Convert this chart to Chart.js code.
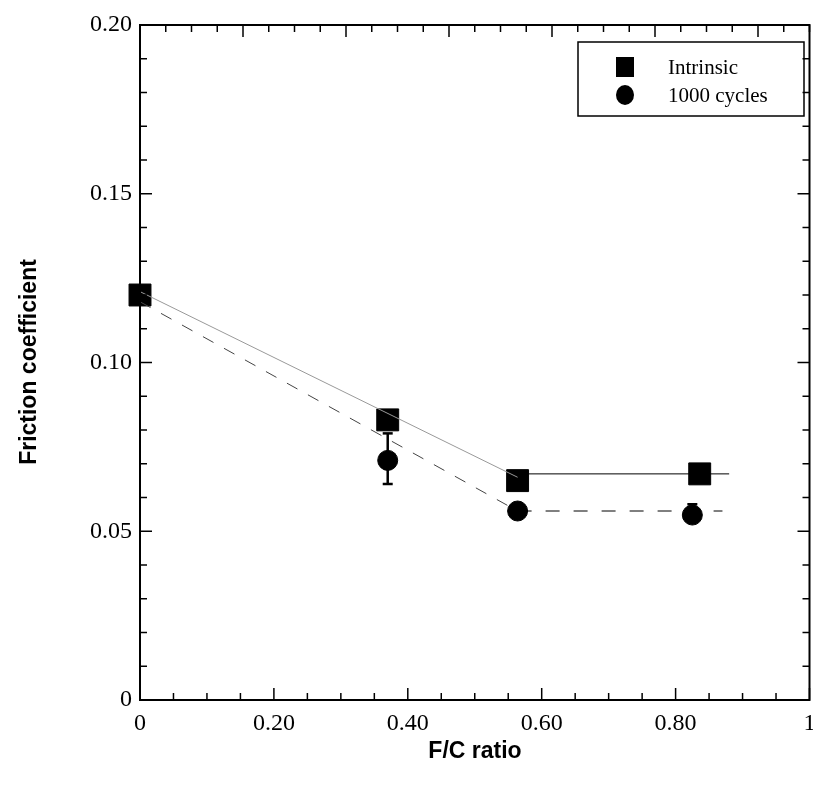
<!DOCTYPE html>
<html>
<head>
  <script src="https://cdn.jsdelivr.net/npm/chart.js@4"></script>
  <style>
    html, body { margin: 0; padding: 0; background: white; overflow: hidden; }
    .chart-container { position: relative; width: 826px; height: 791px; }
  </style>
</head>
<body>
  <div class="chart-container">
    <canvas id="frictionChart"></canvas>
  </div>

  <script>
    // data
    const fcRatio = [0, 0.37, 0.564, 0.836];
    const intrinsic = [0.120, 0.083, 0.065, 0.067];
    const cyclesRatio = [0.37, 0.564, 0.825];
    const cycles1000 = [0.071, 0.056, 0.0548];
    const cyclesErrLow = [0.064, null, null];
    const cyclesErrHigh = [0.079, null, 0.058];

    // fitted lines
    const intrinsicFitA = [[0, 0.121], [0.564, 0.066]];
    const intrinsicFitB = [[0.564, 0.067], [0.88, 0.067]];
    const cyclesFitA = [[0, 0.118], [0.564, 0.056]];
    const cyclesFitB = [[0.564, 0.056], [0.87, 0.056]];

    const xTickValues = [0, 0.2, 0.4, 0.6, 0.8, 1];
    const xTickLabels = ['0', '0.20', '0.40', '0.60', '0.80', '1'];
    const yTickValues = [0, 0.05, 0.10, 0.15, 0.20];
    const yTickLabels = ['0', '0.05', '0.10', '0.15', '0.20'];

    const toPts = arr => arr.map(p => ({x: p[0], y: p[1]}));

    const framePlugin = {
      id: 'frame',
      afterDraw(chart) {
        const ctx = chart.ctx;
        const xs = chart.scales.x, ys = chart.scales.y;
        const a = chart.chartArea;
        ctx.save();
        ctx.strokeStyle = '#000';
        ctx.lineWidth = 2;
        ctx.strokeRect(a.left, a.top, a.right - a.left, a.bottom - a.top);

        // bottom ticks, every 0.05, major at 0.2
        ctx.lineWidth = 1.5;
        for (let i = 0; i <= 20; i++) {
          const px = xs.getPixelForValue(i * 0.05);
          const len = i % 4 === 0 ? 12 : 7;
          ctx.beginPath(); ctx.moveTo(px, a.bottom); ctx.lineTo(px, a.bottom - len); ctx.stroke();
        }
        // top ticks (different spacing in source)
        for (let i = 1; i <= 26; i++) {
          const px = a.left + i * (a.right - a.left) / 26;
          const len = i % 4 === 0 ? 12 : 7;
          ctx.beginPath(); ctx.moveTo(px, a.top); ctx.lineTo(px, a.top + len); ctx.stroke();
        }
        // left / right ticks every 0.01, major at 0.05
        for (let i = 0; i <= 20; i++) {
          const py = ys.getPixelForValue(i * 0.01);
          const len = i % 5 === 0 ? 12 : 7;
          ctx.beginPath(); ctx.moveTo(a.left, py); ctx.lineTo(a.left + len, py); ctx.stroke();
          ctx.beginPath(); ctx.moveTo(a.right, py); ctx.lineTo(a.right - len, py); ctx.stroke();
        }

        // tick labels
        ctx.fillStyle = '#000';
        ctx.font = '24px "Liberation Serif"';
        ctx.textAlign = 'center'; ctx.textBaseline = 'top';
        xTickValues.forEach((v, i) => ctx.fillText(xTickLabels[i], xs.getPixelForValue(v), a.bottom + 12));
        ctx.textAlign = 'right'; ctx.textBaseline = 'middle';
        yTickValues.forEach((v, i) => ctx.fillText(yTickLabels[i], a.left - 8, ys.getPixelForValue(v)));

        // axis titles
        ctx.font = 'bold 23px "Liberation Sans"';
        ctx.textAlign = 'center'; ctx.textBaseline = 'middle';
        ctx.fillText('F/C ratio', 475, 752);
        ctx.save();
        ctx.translate(30, 362); ctx.rotate(-Math.PI / 2);
        ctx.fillText('Friction coefficient', 0, 0);
        ctx.restore();

        // legend
        ctx.lineWidth = 1.5;
        ctx.strokeRect(578, 42, 226, 74);
        ctx.fillRect(616, 57, 18, 20);
        ctx.beginPath(); ctx.ellipse(625, 95, 9, 10, 0, 0, Math.PI * 2); ctx.fill();
        ctx.font = '21px "Liberation Serif"';
        ctx.textAlign = 'left';
        ctx.fillText('Intrinsic', 668, 68);
        ctx.fillText('1000 cycles', 668, 96);
        ctx.restore();
      }
    };

    const errorBarPlugin = {
      id: 'errorBars',
      afterDatasetsDraw(chart) {
        const ctx = chart.ctx;
        const xs = chart.scales.x, ys = chart.scales.y;
        ctx.save();
        ctx.strokeStyle = '#000';
        ctx.lineWidth = 2.5;
        cyclesRatio.forEach((r, i) => {
          const px = xs.getPixelForValue(r);
          const py = ys.getPixelForValue(cycles1000[i]);
          [cyclesErrLow[i], cyclesErrHigh[i]].forEach(e => {
            if (e === null) return;
            const pe = ys.getPixelForValue(e);
            ctx.beginPath(); ctx.moveTo(px, py); ctx.lineTo(px, pe); ctx.stroke();
            ctx.beginPath(); ctx.moveTo(px - 5, pe); ctx.lineTo(px + 5, pe); ctx.stroke();
          });
        });
        ctx.restore();
      }
    };

    const lineDs = (pts, color, dash) => ({
      type: 'line', data: toPts(pts), borderColor: color, borderWidth: 1,
      borderDash: dash, pointRadius: 0, fill: false
    });

    new Chart(document.getElementById('frictionChart'), {
      type: 'scatter',
      data: {
        datasets: [
          lineDs(intrinsicFitA, '#999', []),
          lineDs(intrinsicFitB, '#000', []),
          lineDs(cyclesFitA, '#444', [12, 12]),
          lineDs(cyclesFitB, '#000', [14, 14]),
          {
            label: '1000 cycles',
            data: cyclesRatio.map((r, i) => ({x: r, y: cycles1000[i]})),
            pointStyle: 'circle', pointRadius: 10, backgroundColor: '#000', borderColor: '#000', clip: false
          },
          {
            label: 'Intrinsic',
            data: fcRatio.map((r, i) => ({x: r, y: intrinsic[i]})),
            pointStyle: 'rect', pointRadius: 15.5, backgroundColor: '#000', borderColor: '#000', clip: false
          }
        ]
      },
      options: {
        responsive: true,
        maintainAspectRatio: false,
        animation: false,
        layout: { padding: { left: 140, right: 0, top: 25, bottom: 91 } },
        scales: {
          x: { type: 'linear', min: 0, max: 1, display: false },
          y: { type: 'linear', min: 0, max: 0.2, display: false }
        },
        plugins: { legend: { display: false }, tooltip: { enabled: false } }
      },
      plugins: [errorBarPlugin, framePlugin]
    });
  </script>
</body>
</html>
